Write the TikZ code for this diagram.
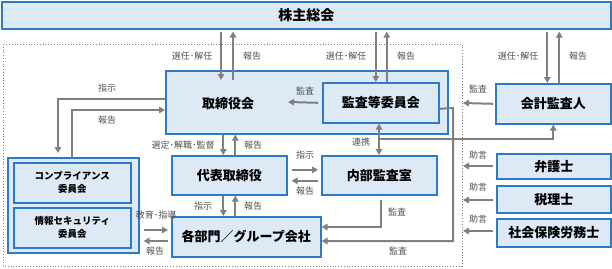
\documentclass[tikz,border=0pt]{standalone}
\usepackage{fontspec}
\setmainfont{Noto Sans CJK JP}
\usetikzlibrary{arrows.meta,calc}
\definecolor{bfill}{HTML}{DEE9F6}
\definecolor{bline}{HTML}{2B7BC9}
\definecolor{agray}{HTML}{808080}
\definecolor{tgray}{HTML}{505050}
\tikzset{
 box/.style={draw=bline, fill=bfill, line width=1.6pt, anchor=north west, inner sep=0pt, align=center, font=\bfseries\fontsize{13}{15}\selectfont},
 arr/.style={draw=agray, line width=2pt, -{Triangle[length=6pt,width=6.5pt]}},
 arrb/.style={draw=agray, line width=2pt, {Triangle[length=6pt,width=6.5pt]}-{Triangle[length=6pt,width=6.5pt]}},
 ln/.style={draw=agray, line width=2pt},
 lbl/.style={text=tgray, font=\fontsize{9}{10}\selectfont, inner sep=0pt},
 btxt/.style={inner sep=0pt, font=\bfseries\fontsize{13}{15}\selectfont},
}
\begin{document}
\begin{tikzpicture}[x=1pt,y=-1pt]
\useasboundingbox (0,0) rectangle (612,268);
\draw[dotted, agray, line width=0.8pt] (3,44) rectangle (462,266);
% boxes
\node[box, minimum width=609pt, minimum height=27pt, font=\bfseries\fontsize{14}{16}\selectfont] (sh) at (1,1) {株主総会};
\node[box, minimum width=282pt, minimum height=63pt] (tb) at (165,70) {};
\node[btxt] (tbt) at (228,104) {取締役会};
\node[box, minimum width=116pt, minimum height=40pt] (ac) at (322,82) {監査等委員会};
\node[box, minimum width=115pt, minimum height=40pt] (ka) at (495,83) {会計監査人};
\node[box, minimum width=115pt, minimum height=39pt] (dt) at (171,155) {代表取締役};
\node[box, minimum width=115pt, minimum height=39pt] (na) at (321,155) {内部監査室};
\node[box, minimum width=149pt, minimum height=40pt] (bu) at (171,216) {各部門／グループ会社};
\node[box, minimum width=131pt, minimum height=95pt] (lg) at (7,157) {};
\node[box, minimum width=117pt, minimum height=40pt, font=\bfseries\fontsize{9.5}{13}\selectfont] (cp) at (13,162) {コンプライアンス\\委員会};
\node[box, minimum width=117pt, minimum height=40pt, font=\bfseries\fontsize{9.5}{13}\selectfont] (is) at (13,207) {情報セキュリティ\\委員会};
\node[box, minimum width=114pt, minimum height=25pt] (bg) at (496,153) {弁護士};
\node[box, minimum width=114pt, minimum height=27pt] (zr) at (496,185) {税理士};
\node[box, minimum width=114pt, minimum height=28pt] (sr) at (496,218) {社会保険労務士};
% shareholders <-> board
\draw[arr] ($(tbt.center |- sh.south)+(-7,2)$) -- ($(tbt.center |- tb.north)+(-7,10)$);
\draw[arr] ($(tbt.center |- tb.north)+(5,10)$) -- ($(tbt.center |- sh.south)+(5,2)$);
\node[lbl] (l1) at (192,56) {選任･解任};
\node[lbl] (l2) at (252,56) {報告};
% shareholders <-> audit committee
\draw[arr] ($(ac.north |- sh.south)+(-5,2)$) -- ($(ac.north)+(-5,0)$);
\draw[arr] ($(ac.north)+(6,0)$) -- ($(ac.north |- sh.south)+(6,2)$);
\node[lbl] (l3) at (346,56) {選任･解任};
\node[lbl] (l4) at (406,56) {報告};
% shareholders <-> accounting auditor
\draw[arr] ($(ka.north |- sh.south)+(-6,2)$) -- ($(ka.north)+(-6,0)$);
\draw[arr] ($(ka.north)+(6,0)$) -- ($(ka.north |- sh.south)+(6,2)$);
\node[lbl] (l5) at (518,56) {選任･解任};
\node[lbl] (l6) at (578,56) {報告};
% accounting auditor audit
\coordinate (kaEnd) at (463,103);
\draw[arr] ([xshift=-2pt]ka.west) -- (kaEnd);
\node[lbl] (l7) at (478,89) {監査};
% audit committee -> board
\coordinate (acEnd) at (288,102);
\draw[arr] ([xshift=-4pt]ac.west) -- (acEnd);
\node[lbl] (l8) at (305,91) {監査};
% audit committee -> divisions
\draw[arr] ([yshift=-6pt]ac.east) -- (453,108) -- (453,241) -- (bu.east |- 0,241);
\node[lbl] (l9) at (398,251) {監査};
% cooperation
\draw[arrb] (ac.south -| 379,0) -- (na.north -| 379,0);
\draw[arr] (379,139) -| (ka.south);
\node[lbl] (l10) at (361,142) {連携};
% board <-> representative director
\draw[arr] ($(tb.south -| dt.north)+(-6,0)$) -- ($(dt.north)+(-6,0)$);
\draw[arr] ($(dt.north)+(6,0)$) -- ($(tb.south -| dt.north)+(6,0)$);
\node[lbl] (l11) at (183,145) {選定･解職･監督};
\node[lbl] (l12) at (253,145) {報告};
% representative director <-> internal audit
\draw[arr] ($(dt.east)+(4,-5.5)$) -- ($(na.west |- dt.east)+(-3,-5.5)$);
\draw[arr] ($(na.west |- dt.east)+(-3,5.5)$) -- ($(dt.east)+(4,5.5)$);
\node[lbl] (l13) at (305,155) {指示};
\node[lbl] (l14) at (305,191) {報告};
% representative director <-> divisions
\draw[arr] ($(dt.south)+(-6,0)$) -- ($(dt.south |- bu.north)+(-6,0)$);
\draw[arr] ($(dt.south |- bu.north)+(6,0)$) -- ($(dt.south)+(6,0)$);
\node[lbl] (l15) at (203,206) {指示};
\node[lbl] (l16) at (253,206) {報告};
% internal audit -> divisions
\draw[arr] ($(na.south)+(1.5,4)$) |- (bu.east |- 0,227);
\node[lbl] (l17) at (397,212) {監査};
% board <-> left group
\draw[arr] (tb.west |- 0,99) -| (58,153);
\draw[arr] (72,157) |- (tb.west |- 0,110);
\node[lbl] (l18) at (107,88) {指示};
\node[lbl] (l19) at (107,120) {報告};
% left group <-> divisions
\draw[arr] ($(lg.east |- 0,230)+(4,0)$) -- ($(bu.west |- 0,230)+(-3,0)$);
\draw[arr] ($(bu.west |- 0,241)+(-3,0)$) -- ($(lg.east |- 0,241)+(4,0)$);
\node[lbl] (l20) at (156,215) {教育･指導};
\node[lbl] (l21) at (155,251) {報告};
% advisors
\coordinate (bgEnd) at (463,166);
\coordinate (zrEnd) at (463,200);
\coordinate (srEnd) at (463,231);
\draw[arr] ([xshift=-3pt]bg.west |- bgEnd) -- (bgEnd);
\draw[arr] ([xshift=-3pt]zr.west |- zrEnd) -- (zrEnd);
\draw[arr] ([xshift=-3pt]sr.west |- srEnd) -- (srEnd);
\node[lbl] (l22) at (478,155) {助言};
\node[lbl] (l23) at (478,187) {助言};
\node[lbl] (l24) at (478,219) {助言};
\end{tikzpicture}
\end{document}
